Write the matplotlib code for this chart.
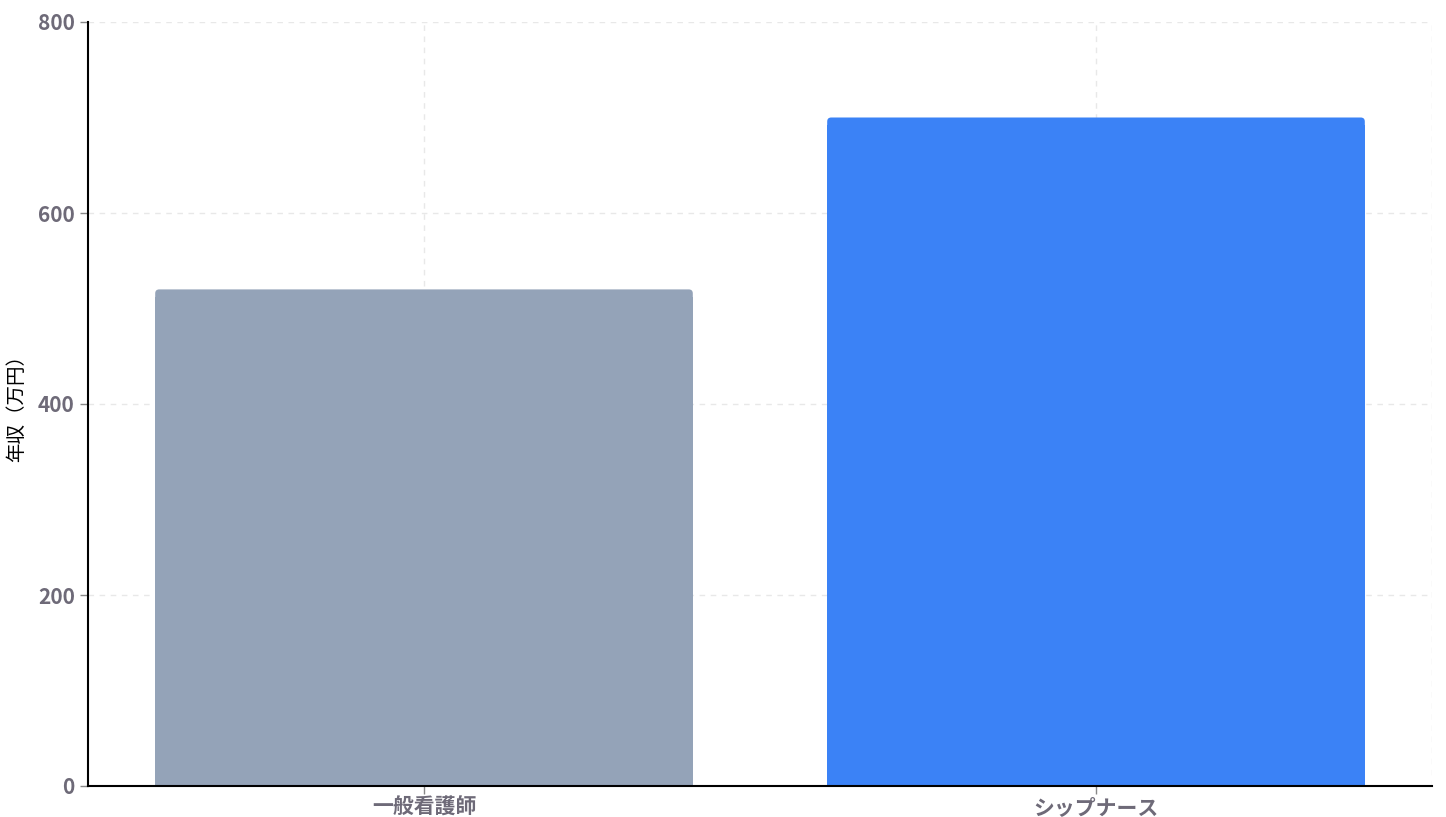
import matplotlib
matplotlib.use("Agg")
import matplotlib.pyplot as plt
from matplotlib.patches import FancyBboxPatch, Rectangle

plt.rcParams['font.family'] = ['Noto Sans CJK JP', 'DejaVu Sans']

# data
categories = ["一般看護師", "シップナース"]
salaries = [520, 700]
bar_colors = ["#94a3b8", "#3b82f6"]
y_ticks = [0, 200, 400, 600, 800]

fig = plt.figure(figsize=(14.46, 8.17), dpi=100)
ax = fig.add_axes([88 / 1446, 31 / 817, (1432 - 88) / 1446, (786 - 22) / 817])

width = 0.8
xs = list(range(len(categories)))
bars = ax.bar(xs, salaries, width=width, color=bar_colors, zorder=2)

# rounded top corners: rounded box on top, flat box below it
ax.set_xlim(-0.5, len(categories) - 0.5)
ax.set_ylim(0, 800)
for b in bars:
    b.set_visible(False)
    x0, w, h = b.get_x(), b.get_width(), b.get_height()
    c = b.get_facecolor()
    ax.add_patch(FancyBboxPatch((x0, 0), w, h,
                                boxstyle="round,pad=0,rounding_size=0.006",
                                mutation_aspect=700, fc=c, ec="none", zorder=2))
    ax.add_patch(Rectangle((x0, 0), w, h - 8, fc=c, ec="none", zorder=2,
                           antialiased=False))

# grid
ax.set_axisbelow(True)
ax.grid(True, color="#e8e8e8", linestyle=(0, (4, 4)), linewidth=1)
ax.axvline(len(categories) - 0.5, color="#e8e8e8", linestyle=(0, (4, 4)), linewidth=1)

ax.set_xticks(xs)
ax.set_xticklabels(categories)
ax.set_yticks(y_ticks)
ax.tick_params(axis="both", colors="#888888", labelcolor="#6e6a78", labelsize=15, length=6, width=1)
ax.tick_params(axis="x", pad=2)
for lab in ax.get_xticklabels() + ax.get_yticklabels():
    lab.set_fontweight("bold")

ax.set_ylabel("年収（万円）", fontsize=14, color="black", labelpad=8)

for s in ["top", "right"]:
    ax.spines[s].set_visible(False)
ax.spines["left"].set_color("black")
ax.spines["left"].set_linewidth(1.5)
ax.spines["bottom"].set_color("black")
ax.spines["bottom"].set_linewidth(1.5)
ax.spines["bottom"].set_zorder(3)

fig.savefig("out.png", dpi=100)
